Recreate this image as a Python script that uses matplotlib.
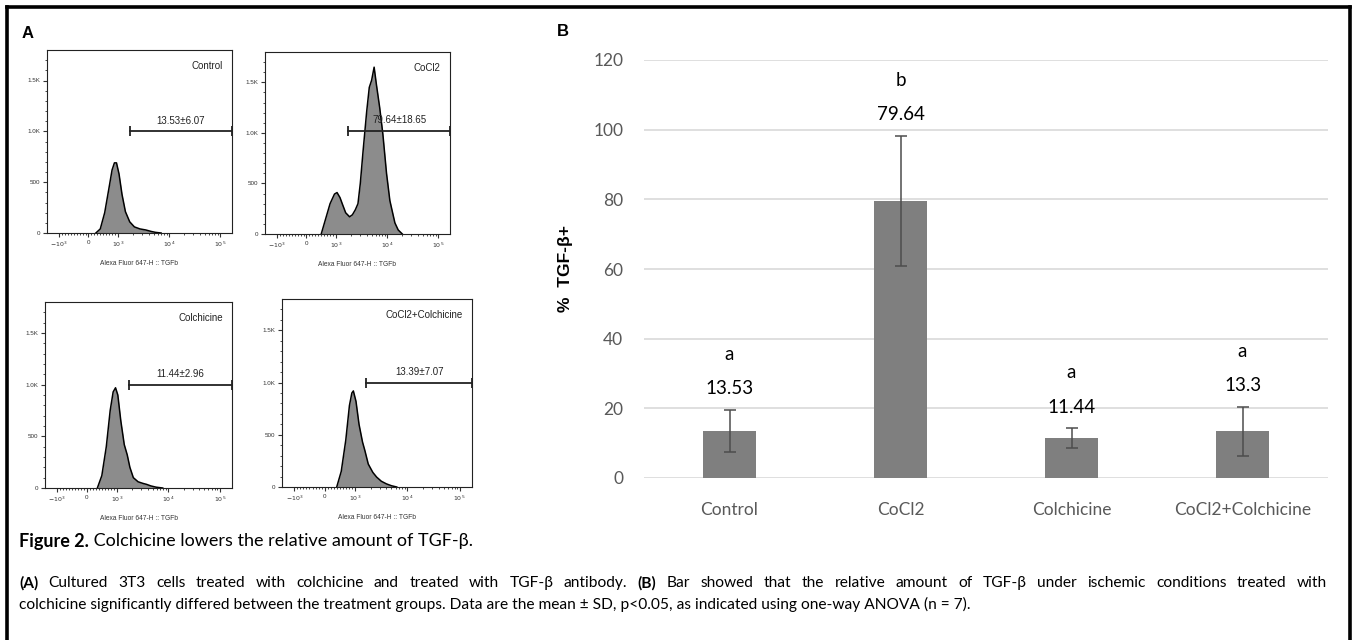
import matplotlib
matplotlib.use("Agg")
import matplotlib.pyplot as plt
import numpy as np
from matplotlib.lines import Line2D

# ---- panel A : flow histograms (fluorescence value, cell count) ----
ctrl_x = [250, 400, 550, 700, 800, 880, 950, 1050, 1200, 1400, 1700, 2100, 2700, 3500, 4500, 5500, 7000]
ctrl_c = [0, 40, 200, 450, 620, 690, 690, 580, 380, 210, 110, 60, 40, 30, 15, 6, 0]

cocl_x = [500, 650, 800, 950, 1050, 1200, 1350, 1550, 1850, 2100, 2400, 2700, 3000, 3400, 4000,
          4500, 5000, 5600, 6200, 7200, 8300, 9800, 11400, 14300, 16600, 20000]
cocl_c = [0, 150, 300, 395, 410, 360, 290, 210, 170, 190, 240, 300, 500, 820, 1210,
          1450, 1520, 1650, 1480, 1250, 990, 600, 330, 110, 40, 0]

colc_x = [350, 500, 650, 780, 880, 960, 1050, 1200, 1400, 1600, 1800, 2100, 2600, 3200, 3800, 4600, 5800, 7800]
colc_c = [0, 120, 400, 750, 930, 970, 900, 650, 420, 320, 200, 100, 60, 45, 35, 20, 8, 0]

both_x = [400, 550, 700, 820, 900, 950, 1050, 1200, 1400, 1550, 1800, 2200, 2600, 3200, 4000, 5000, 6300]
both_c = [0, 150, 450, 780, 900, 920, 820, 600, 430, 350, 220, 140, 95, 55, 30, 12, 0]

hist_names = ["Control", "CoCl2", "Colchicine", "CoCl2+Colchicine"]
gate_labels = ["13.53\u00b16.07", "79.64\u00b118.65", "11.44\u00b12.96", "13.39\u00b17.07"]
gate_start = [1700, 1750, 1700, 1650]
gate_level = [1000, 1020, 1000, 1000]

# ---- panel B : bar chart ----
groups = ["Control", "CoCl2", "Colchicine", "CoCl2+Colchicine"]
means = [13.53, 79.64, 11.44, 13.39]
sds = [6.07, 18.65, 2.96, 7.07]
value_labels = ["13.53", "79.64", "11.44", "13.3"]
letters = ["a", "b", "a", "a"]

W, H = 1357, 640
fig = plt.figure(figsize=(W / 100, H / 100), dpi=100)
fig.patch.set_facecolor("white")

def px_box(x0, y0, x1, y1):
    return [x0 / W, 1 - y1 / H, (x1 - x0) / W, (y1 - y0) / H]

HF = "Liberation Sans"
boxes = [px_box(47, 50, 232, 233), px_box(265, 52, 450, 234),
         px_box(45, 302, 232, 488), px_box(282, 299, 472, 487)]
curves = [(ctrl_x, ctrl_c), (cocl_x, cocl_c), (colc_x, colc_c), (both_x, both_c)]
xmin, xmax = -1720, 172000

minor = list(range(-1000, 1001, 100))
for dec in [1e3, 1e4, 1e5]:
    minor += [k * dec for k in range(2, 10) if k * dec < xmax]

for i, (box, (xs, cs)) in enumerate(zip(boxes, curves)):
    ax = fig.add_axes(box)
    ax.set_xscale("symlog", linthresh=1000, linscale=0.52)
    ax.set_xlim(xmin, xmax)
    ax.set_ylim(0, 1800)
    ax.fill_between(xs, cs, 0, color="#8c8c8c", lw=0)
    ax.plot(xs, cs, color="black", lw=1.1)
    ax.set_xticks([-1000, 0, 1000, 10000, 100000])
    ax.set_xticklabels([r"$-10^3$", "0", r"$10^3$", r"$10^4$", r"$10^5$"])
    ax.set_xticks(minor, minor=True)
    ax.set_yticks([0, 500, 1000, 1500])
    ax.set_yticklabels(["0", "500", "1.0K", "1.5K"])
    ax.set_yticks(np.arange(0, 1800, 100), minor=True)
    ax.tick_params(labelsize=4.5, colors="#333333", length=3, width=0.8, pad=2)
    ax.tick_params(which="minor", length=1.6, width=0.5)
    for lab in ax.get_xticklabels() + ax.get_yticklabels():
        lab.set_family(HF)
    for sp in ax.spines.values():
        sp.set_linewidth(0.8)
        sp.set_color("#222222")
    ax.set_xlabel("Alexa Fluor 647-H :: TGFb", fontsize=4.8, family=HF, labelpad=8, color="#333333")
    ax.text(0.95, 0.94, hist_names[i], transform=ax.transAxes, ha="right", va="top",
            fontsize=7, family=HF, color="#222222")
    # gate
    g0, g1, gy = gate_start[i], xmax * 0.99, gate_level[i]
    ax.plot([g0, g1], [gy, gy], color="#222222", lw=1.3, clip_on=False)
    ax.plot([g0, g1], [gy, gy], ls="none", marker="|", ms=7, mew=1.3, color="#222222", clip_on=False)
    a0 = ax.transAxes.inverted().transform(ax.transData.transform((g0, gy)))
    ax.annotate(gate_labels[i], xy=((a0[0] + 1) / 2, a0[1]), xycoords="axes fraction",
                xytext=(0, 4), textcoords="offset points", ha="center", va="bottom",
                fontsize=7, family=HF, color="#222222")

fig.text(28 / W, 1 - 33 / H, "A", fontsize=12, fontweight="bold", family=HF, va="center", ha="center")
fig.text(563 / W, 1 - 32 / H, "B", fontsize=12, fontweight="bold", family=HF, va="center", ha="center")

# ---- bar chart ----
BF = ["Lato", "DejaVu Sans"]
bx = fig.add_axes(px_box(644, 60, 1328, 478))
pos = np.arange(len(groups))
bx.bar(pos, means, width=0.31, color="#7f7f7f", zorder=2)
bx.errorbar(pos, means, yerr=sds, fmt="none", ecolor="#4d4d4d", elinewidth=1.1,
            capsize=4.5, capthick=1.1, zorder=3)
bx.set_xlim(-0.5, 3.5)
bx.set_ylim(0, 120)
bx.set_yticks(range(0, 121, 20))
bx.grid(axis="y", color="#d9d9d9", lw=1.2, zorder=0)
bx.set_axisbelow(True)
for sp in bx.spines.values():
    sp.set_visible(False)
bx.set_xticks(pos)
bx.set_xticklabels(groups)
bx.tick_params(length=0, labelsize=12.5, colors="#595959", pad=15)
bx.tick_params(axis="x", pad=17)
for lab in bx.get_xticklabels() + bx.get_yticklabels():
    lab.set_family(BF)
bx.set_ylabel("%  TGF-\u03b2+", fontsize=12.5, fontweight="bold", family=HF)
bx.yaxis.set_label_coords(-0.104, 0.5)
for p, m, s, vl, lt in zip(pos, means, sds, value_labels, letters):
    bx.annotate(vl, xy=(p, m + s), xytext=(0, 15), textcoords="offset points",
                ha="center", va="center", fontsize=13.5, family=BF)
    bx.annotate(lt, xy=(p, m + s), xytext=(0, 40), textcoords="offset points",
                ha="center", va="center", fontsize=13.5, family=BF)

# ---- caption ----
rend = fig.canvas.get_renderer()

def put_runs(x_px, y_px, runs, size):
    x = x_px / W
    for txt, wt in runs:
        t = fig.text(x, 1 - y_px / H, txt, fontsize=size, fontweight=wt, family=BF, va="center")
        bb = t.get_window_extent(renderer=rend)
        x = fig.transFigure.inverted().transform((bb.x1, bb.y0))[0]

def put_justified(x_px, x_end_px, y_px, runs, size):
    # split runs into words and spread them over the full line width
    words = [(w, wt) for txt, wt in runs for w in txt.split()]
    arts, total = [], 0.0
    for w, wt in words:
        t = fig.text(0, 1 - y_px / H, w, fontsize=size, fontweight=wt, family=BF, va="center")
        wd = t.get_window_extent(renderer=rend).width
        arts.append((t, wd))
        total += wd
    gap = (x_end_px - x_px - total) / (len(arts) - 1)
    x = x_px
    for t, wd in arts:
        t.set_x(x / W)
        x += wd + gap

put_runs(19, 541, [("Figure 2.", "bold"),
                   (" Colchicine lowers the relative amount of TGF-\u03b2.", "normal")], 13)
put_justified(19, 1327, 583, [("(A)", "bold"),
                              ("Cultured 3T3 cells treated with colchicine and treated with TGF-\u03b2 antibody.", "normal"),
                              ("(B)", "bold"),
                              ("Bar showed that the relative amount of TGF-\u03b2 under ischemic conditions treated with", "normal")],
              11.2)
put_runs(19, 604, [("colchicine significantly differed between the treatment groups. Data are the mean \u00b1 SD, "
                    "p<0.05, as indicated using one-way ANOVA (n = 7).", "normal")], 11.2)

# ---- frame (open at the bottom) ----
for xy in [([6.5 / W, 6.5 / W], [0, 1 - 6.5 / H]),
           ([6.5 / W, 1350 / W], [1 - 6.5 / H, 1 - 6.5 / H]),
           ([1350 / W, 1350 / W], [0, 1 - 6.5 / H])]:
    fig.add_artist(Line2D(xy[0], xy[1], color="black", lw=2.6, transform=fig.transFigure))

fig.savefig("out.png", dpi=100)
